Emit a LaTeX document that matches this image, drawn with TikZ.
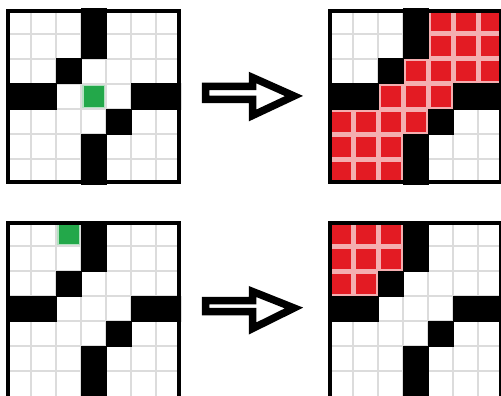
\documentclass[tikz,border=0pt]{standalone}
\definecolor{gridgray}{HTML}{DCDCDC}
\definecolor{cellred}{HTML}{E31B23}
\definecolor{cellpink}{HTML}{F4AEB0}
\definecolor{cellgreen}{HTML}{23A84A}
\tikzset{
  gridline/.style={draw=gridgray, line width=2},
  frameline/.style={draw=black, line width=4},
  arrowshape/.style={draw=black, line width=7.5, line join=miter, fill=white},
}
\newcommand\mygridbase{%
  \fill[white] (0,0) rectangle (175,175);
  \foreach \i in {1,...,6} {
    \draw[gridline] (\i*25,0) -- (\i*25,175);
    \draw[gridline] (0,\i*25) -- (175,\i*25);
  }
}
\newcommand\myblackcells{%
  \begin{scope}
    \clip (0,0) rectangle (175,175);
    \foreach \c/\r in {3/0,3/1,2/2,0/3,1/3,5/3,6/3,4/4,3/5,3/6}
      \fill[black] (\c*25-0.5,\r*25-0.5) rectangle ++(26,26);
  \end{scope}
}
\newcommand\myredcell[2]{%
  \fill[cellpink] (#1*25,#2*25) rectangle ++(25,25);
  \fill[cellred] (#1*25+2.5,#2*25+2.5) rectangle ++(20,20);
}
\newcommand\mygreencell[2]{%
  \fill[cellgreen!35] (#1*25+1,#2*25+1) rectangle ++(23,23);
  \fill[cellgreen] (#1*25+2.5,#2*25+2.5) rectangle ++(20,20);
}
\newcommand\myfullframe{\draw[frameline] (2,2) rectangle (173,173);}
\newcommand\myopenframe{\draw[frameline] (2,180) -- (2,2) -- (173,2) -- (173,180);}
\begin{document}
\begin{tikzpicture}[x=1pt,y=-1pt]
\useasboundingbox (0,0) rectangle (501,396);
\clip (0,0) rectangle (501,396);
\fill[white] (0,0) rectangle (501,396);
% top-left
\begin{scope}[shift={(6,9)}]
  \mygridbase
  \mygreencell{3}{3}
  \myblackcells
  \myfullframe
\end{scope}
% top-right
\begin{scope}[shift={(328,9)}]
  \mygridbase
  \foreach \c/\r in {4/0,5/0,6/0,4/1,5/1,6/1,3/2,4/2,5/2,6/2,2/3,3/3,4/3,0/4,1/4,2/4,3/4,0/5,1/5,2/5,0/6,1/6,2/6}
    {\myredcell{\c}{\r}}
  \myblackcells
  \myfullframe
\end{scope}
% bottom-left
\begin{scope}[shift={(6,221)}]
  \mygridbase
  \mygreencell{2}{0}
  \myblackcells
  \myopenframe
\end{scope}
% bottom-right
\begin{scope}[shift={(328,221)}]
  \mygridbase
  \foreach \c/\r in {0/0,1/0,2/0,0/1,1/1,2/1,0/2,1/2}
    {\myredcell{\c}{\r}}
  \myblackcells
  \myopenframe
\end{scope}
% arrows
\draw[arrowshape] (205.5,86.5) -- (252.5,86.5) -- (252.5,77.5) -- (294,96)
  -- (252.5,115.5) -- (252.5,99.5) -- (205.5,99.5) -- cycle;
\draw[arrowshape] (205.5,300.5) -- (252.5,300.5) -- (252.5,291.5) -- (294,308)
  -- (252.5,328.5) -- (252.5,311.5) -- (205.5,311.5) -- cycle;
\end{tikzpicture}
\end{document}
